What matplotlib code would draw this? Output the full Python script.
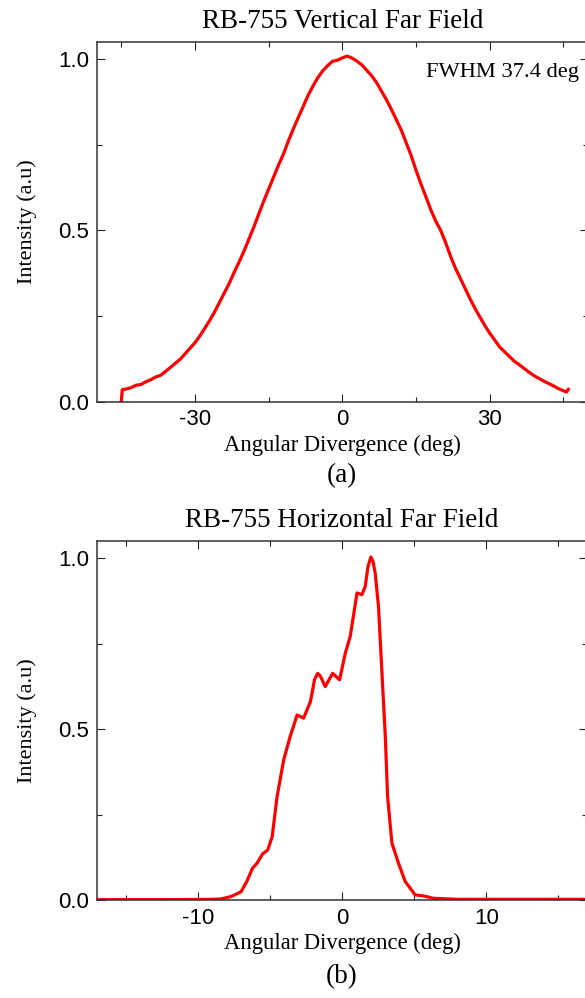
import matplotlib
matplotlib.use('Agg')
import matplotlib.pyplot as plt
from matplotlib.ticker import MultipleLocator, FormatStrFormatter

plt.rcParams['axes.unicode_minus'] = False

# Vertical far field
vert_x = [-45, -44.8, -44, -43, -42, -41, -40, -39, -38, -37, -36, -35, -34, -33, -32, -31,
          -30, -29, -28, -27, -26, -25, -24, -23, -22, -21, -20, -19, -18, -17, -16, -15,
          -14, -13, -12, -11, -10, -9, -8, -7, -6, -5, -4, -3, -2, -1, 0, 1, 2, 3, 4, 5,
          6, 7, 8, 9, 10, 11, 12, 13, 14, 15, 16, 17, 18, 19, 20, 21, 22, 23, 24, 25, 26,
          27, 28, 29, 30, 31, 32, 33, 34, 35, 36, 37, 38, 39, 40, 41, 42, 43, 44, 45, 45.6, 46]
vert_y = [0.0, 0.035, 0.037, 0.041, 0.048, 0.050, 0.058, 0.064, 0.072, 0.077, 0.088, 0.100,
          0.112, 0.124, 0.140, 0.156, 0.172, 0.192, 0.214, 0.237, 0.262, 0.290, 0.318, 0.346,
          0.378, 0.408, 0.440, 0.475, 0.510, 0.548, 0.585, 0.620, 0.655, 0.690, 0.722, 0.760,
          0.795, 0.828, 0.860, 0.893, 0.920, 0.945, 0.965, 0.980, 0.993, 0.996, 1.003, 1.008,
          1.002, 0.993, 0.982, 0.966, 0.950, 0.930, 0.905, 0.880, 0.852, 0.822, 0.792, 0.755,
          0.718, 0.675, 0.635, 0.598, 0.560, 0.527, 0.500, 0.465, 0.425, 0.390, 0.360, 0.330,
          0.300, 0.272, 0.247, 0.222, 0.200, 0.180, 0.160, 0.146, 0.132, 0.118, 0.108, 0.097,
          0.086, 0.076, 0.068, 0.060, 0.053, 0.046, 0.038, 0.032, 0.028, 0.036]

# Horizontal far field
horiz_x = [-17, -12, -9, -8.4, -7.7, -7.0, -6.6, -6.2, -5.9, -5.5, -5.15, -4.84, -4.5, -4.04,
           -3.58, -3.11, -2.66, -2.19, -1.9, -1.69, -1.5, -1.16, -0.65, -0.17, 0.23, 0.57,
           1.04, 1.38, 1.61, 1.8, 2.0, 2.15, 2.3, 2.53, 2.77, 3.0, 3.16, 3.46, 3.92, 4.38,
           5.07, 5.65, 6.34, 8, 17]
horiz_y = [0.001, 0.001, 0.002, 0.003, 0.010, 0.024, 0.054, 0.093, 0.107, 0.135, 0.146,
           0.185, 0.302, 0.41, 0.48, 0.541, 0.532, 0.58, 0.645, 0.663, 0.655, 0.624, 0.663,
           0.644, 0.722, 0.771, 0.898, 0.893, 0.917, 0.975, 1.003, 0.99, 0.956, 0.858, 0.663,
           0.48, 0.302, 0.166, 0.107, 0.054, 0.015, 0.012, 0.005, 0.002, 0.002]

serif = 'Liberation Serif'
sans = 'Liberation Sans'

fig = plt.figure(figsize=(5.85, 9.98), dpi=100)
W, H = 585.0, 998.0
ax1 = fig.add_axes([96.7/W, 1 - 401.7/H, (588 - 96.7)/W, (401.7 - 41.7)/H])
ax2 = fig.add_axes([96.7/W, 1 - 900/H, (587.3 - 96.7)/W, (900 - 541)/H])

def style(ax, major, minor):
    ax.set_ylim(0, 1.05)
    ax.yaxis.set_major_locator(MultipleLocator(0.5))
    ax.yaxis.set_minor_locator(MultipleLocator(0.25))
    ax.xaxis.set_major_locator(MultipleLocator(major))
    ax.xaxis.set_minor_locator(MultipleLocator(minor))
    ax.yaxis.set_major_formatter(FormatStrFormatter('%.1f'))
    ax.tick_params(which='both', direction='in', top=True, right=True, width=0.8,
                   labelsize=16, color='#222222', pad=5.5)
    ax.tick_params(which='major', length=6)
    ax.tick_params(which='minor', length=3.5)
    for lab in ax.get_xticklabels() + ax.get_yticklabels():
        lab.set_fontfamily(sans)
    for s in ax.spines.values():
        s.set_linewidth(1.1)
        s.set_color('#333333')
    ax.set_ylabel('Intensity (a.u)', fontfamily=serif, fontsize=16, labelpad=15)
    ax.set_xlabel('Angular Divergence (deg)', fontfamily=serif, fontsize=16.3, labelpad=3)

ax1.plot(vert_x, vert_y, color='#ff0000', lw=2.3)
ax1.set_xlim(-50, 50)
style(ax1, 30, 15)
ax1.set_title('RB-755 Vertical Far Field', fontfamily=serif, fontsize=19.5, pad=10)
ax1.text(48.2, 0.946, 'FWHM 37.4 deg', fontfamily=serif, fontsize=16.2, ha='right', va='baseline')

ax2.plot(horiz_x, horiz_y, color='#ff0000', lw=2.3)
ax2.set_xlim(-17, 17)
style(ax2, 10, 5)
ax2.set_title('RB-755 Horizontal Far Field', fontfamily=serif, fontsize=19.5, pad=10)

fig.text(342/W, 1 - 476/H, '(a)', fontfamily=serif, fontsize=19.5, ha='center', va='center')
fig.text(342/W, 1 - 977/H, '(b)', fontfamily=serif, fontsize=19.5, ha='center', va='center')

fig.savefig('out.png', dpi=100)
